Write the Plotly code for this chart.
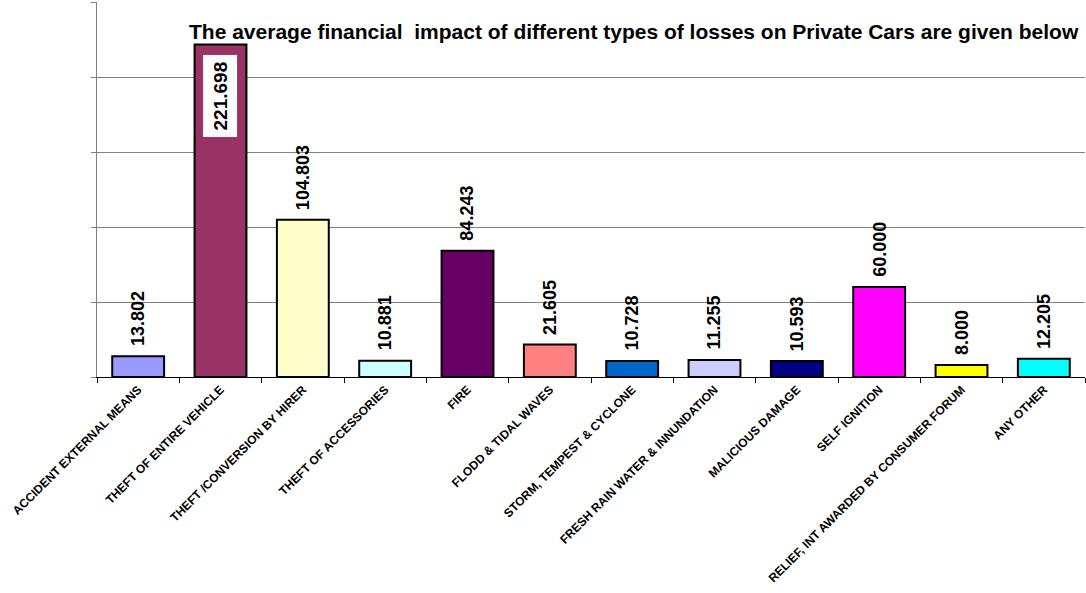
import plotly.graph_objects as go

categories = [
    "ACCIDENT EXTERNAL MEANS",
    "THEFT OF ENTIRE VEHICLE",
    "THEFT /CONVERSION BY HIRER",
    "THEFT OF ACCESSORIES",
    "FIRE",
    "FLODD & TIDAL WAVES",
    "STORM, TEMPEST & CYCLONE",
    "FRESH RAIN WATER & INNUNDATION",
    "MALICIOUS DAMAGE",
    "SELF IGNITION",
    "RELIEF, INT AWARDED BY CONSUMER FORUM",
    "ANY OTHER",
]
values = [13.802, 221.698, 104.803, 10.881, 84.243, 21.605,
          10.728, 11.255, 10.593, 60.000, 8.000, 12.205]
colors = ["#9999FF", "#993366", "#FFFFCC", "#CCFFFF", "#660066", "#FF8080",
          "#0066CC", "#CCCCFF", "#000080", "#FF00FF", "#FFFF00", "#00FFFF"]
title_text = "The average financial\u00a0 impact of different types of losses on Private Cars are given below"

font_family = "Liberation Sans, Arial, sans-serif"

fig = go.Figure(go.Bar(
    x=categories,
    y=values,
    marker=dict(color=colors, line=dict(color="black", width=2)),
    width=0.63,
    hoverinfo="x+y",
))

# value labels, rotated, above each bar (inside the top for the tallest)
annotations = []
for cat, v in zip(categories, values):
    inside = v > 200
    annotations.append(dict(
        x=cat, y=v, xref="x", yref="y",
        text="<b>%.3f</b>" % v,
        textangle=-90,
        showarrow=False,
        xanchor="center",
        yanchor="top" if inside else "bottom",
        yshift=-10 if inside else 8,
        bgcolor="white" if inside else None,
        borderpad=6 if inside else 1,
        font=dict(family=font_family, size=19 if inside else 18, color="black"),
    ))

# chart heading, positioned in paper coordinates
plot_w = 1086 - 97 - 1
plot_h = 593 - 216 - 2
annotations.append(dict(
    xref="paper", yref="paper",
    x=(1081 - 97) / plot_w, xanchor="right",
    y=(593 - 216 - 32) / plot_h, yanchor="middle",
    text="<b>" + title_text + "</b>",
    showarrow=False,
    font=dict(family=font_family, size=21, color="black"),
))

fig.update_layout(
    width=1086, height=593,
    margin=dict(l=97, r=1, t=2, b=216),
    paper_bgcolor="white",
    plot_bgcolor="white",
    showlegend=False,
    bargap=0.37,
    font=dict(family=font_family, color="black"),
    annotations=annotations,
    xaxis=dict(
        tickangle=-45,
        tickson="boundaries",
        ticks="outside",
        ticklen=5,
        tickcolor="black",
        showline=True,
        linecolor="black",
        linewidth=1,
        showgrid=False,
        tickfont=dict(family=font_family, size=12, color="black"),
        tickprefix="<b>",
        ticksuffix="</b>",
    ),
    yaxis=dict(
        range=[0, 250],
        tickvals=[0, 50, 100, 150, 200, 250],
        showticklabels=False,
        ticks="outside",
        ticklen=5,
        tickcolor="#808080",
        showline=True,
        linecolor="#808080",
        linewidth=1,
        showgrid=True,
        gridcolor="#808080",
        gridwidth=1,
        zeroline=False,
    ),
)

fig.write_html("out.html")
